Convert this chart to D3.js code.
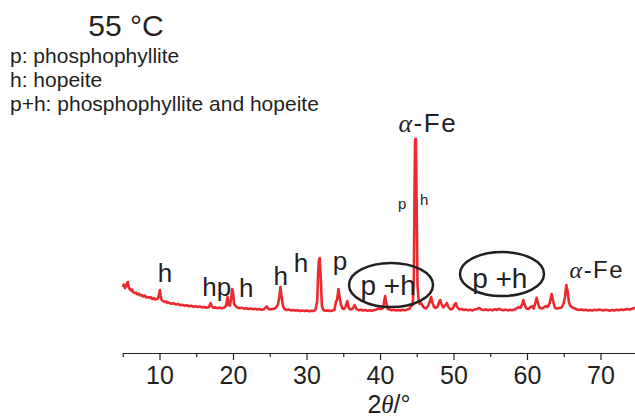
<!DOCTYPE html>
<html>
<head>
<meta charset="utf-8">
<script src="https://cdn.jsdelivr.net/npm/d3@7"></script>
<style>
  body { margin: 0; background: #fff; }
  text { font-family: "Liberation Sans", Arial, sans-serif; fill: #231f20; }
</style>
</head>
<body>
<script>
//Data_______________________________________________________________________________________________
// XRD pattern, [2theta (deg), intensity (counts)]
var pattern = [
  [5.0,430],[5.15,455],[5.3,420],[5.45,440],[5.6,470],[5.7,480],[5.8,430],[5.95,410],[6.1,395],[6.25,405],
  [6.4,380],[6.6,370],[6.8,375],[7.0,355],[7.2,365],[7.4,345],[7.6,350],[7.8,335],[8.0,345],[8.2,325],
  [8.4,330],[8.6,320],[8.8,330],[9.0,310],[9.2,320],[9.4,305],[9.6,310],[9.8,315],[9.95,360],[10.05,400],
  [10.15,340],[10.3,300],[10.5,290],[10.7,280],[10.9,285],[11.1,270],[11.3,275],[11.6,262],[11.9,268],[12.2,255],
  [12.5,260],[12.8,248],[13.1,252],[13.4,242],[13.7,248],[14.0,238],[14.3,242],[14.6,232],[14.9,238],[15.2,230],
  [15.5,235],[15.8,226],[16.1,230],[16.4,222],[16.7,228],[16.95,270],[17.1,240],[17.3,222],[17.6,226],[17.9,218],
  [18.2,224],[18.5,216],[18.8,225],[19.05,240],[19.25,330],[19.4,250],[19.6,245],[19.8,350],[19.9,410],[20.0,380],
  [20.15,260],[20.35,240],[20.6,225],[20.9,218],[21.2,222],[21.5,214],[21.8,218],[22.1,210],[22.4,215],[22.7,208],
  [23.0,212],[23.3,205],[23.6,210],[23.9,203],[24.2,208],[24.45,225],[24.6,235],[24.8,212],[25.1,205],[25.4,210],
  [25.7,215],[25.9,230],[26.1,250],[26.3,330],[26.45,430],[26.6,340],[26.8,240],[27.0,210],[27.3,200],[27.6,205],
  [27.9,196],[28.2,200],[28.5,194],[28.8,198],[29.1,190],[29.4,195],[29.7,190],[30.0,194],[30.3,188],[30.6,193],
  [30.9,190],[31.2,200],[31.45,280],[31.6,600],[31.7,700],[31.8,720],[31.95,500],[32.1,240],[32.3,200],[32.6,192],
  [32.9,196],[33.2,190],[33.5,194],[33.8,200],[34.0,280],[34.15,300],[34.35,410],[34.5,330],[34.7,250],[34.9,215],
  [35.1,210],[35.3,230],[35.55,290],[35.75,220],[36.0,205],[36.3,215],[36.55,250],[36.8,210],[37.1,198],[37.4,202],
  [37.7,195],[38.0,200],[38.3,192],[38.6,198],[38.9,193],[39.2,200],[39.5,205],[39.8,215],[40.1,208],[40.4,220],
  [40.6,300],[40.7,340],[40.8,290],[41.0,215],[41.3,205],[41.6,198],[41.9,202],[42.2,195],[42.5,200],[42.8,196],
  [43.1,202],[43.4,198],[43.7,205],[44.0,212],[44.25,240],[44.45,250],[44.6,500],[44.7,1400],[44.78,1910],[44.88,1910],
  [44.98,1300],[45.1,450],[45.25,300],[45.4,260],[45.6,270],[45.8,240],[46.0,225],[46.25,215],[46.55,240],[46.8,290],
  [46.95,330],[47.1,280],[47.35,230],[47.6,220],[47.85,235],[48.1,290],[48.2,300],[48.35,260],[48.6,225],[48.9,250],
  [49.1,270],[49.3,230],[49.6,205],[49.9,215],[50.1,250],[50.3,270],[50.5,230],[50.8,205],[51.1,210],[51.4,200],
  [51.7,205],[52.0,198],[52.3,202],[52.6,196],[52.9,205],[53.2,210],[53.5,220],[53.8,205],[54.1,200],[54.4,206],
  [54.7,198],[55.0,204],[55.3,196],[55.6,208],[55.9,200],[56.2,212],[56.5,202],[56.8,198],[57.1,204],[57.4,196],
  [57.7,202],[58.0,198],[58.3,205],[58.6,215],[58.85,230],[59.1,220],[59.35,260],[59.5,300],[59.65,260],[59.9,215],
  [60.2,210],[60.5,230],[60.7,240],[60.9,215],[61.1,260],[61.3,323],[61.5,270],[61.7,220],[62.0,215],[62.3,225],
  [62.55,240],[62.8,230],[63.1,270],[63.35,360],[63.55,290],[63.8,220],[64.1,215],[64.4,220],[64.7,225],[64.95,260],
  [65.15,320],[65.35,450],[65.5,400],[65.7,280],[65.9,240],[66.2,225],[66.5,215],[66.8,205],[67.1,200],[67.4,205],
  [67.7,198],[68.0,202],[68.3,195],[68.6,200],[68.9,194],[69.2,202],[69.5,198],[69.8,205],[70.1,200],[70.4,196],
  [70.7,202],[71.0,198],[71.3,194],[71.6,200],[71.9,196],[72.2,202],[72.5,198],[72.8,204],[73.1,200],[73.4,206],
  [73.7,210],[74.0,204],[74.3,212],[74.6,220],[74.9,214]
];

var majorTicks = [10, 20, 30, 40, 50, 60, 70];
var minorTicks = [5, 15, 25, 35, 45, 55, 65, 75];

// phase labels: [text, 2theta, intensity]
var peakLabels = [
  ["h", 10.75, 480], ["hp", 17.8, 340], ["h", 21.8, 330], ["h", 26.5, 450],
  ["h", 29.25, 580], ["p", 34.55, 600]
];
var smallLabels = [["p", 43.0, 1210], ["h", 46.0, 1250]];
var feLabels = [["\u03b1", "-Fe", 46.5, 1980, 26], ["\u03b1", "-Fe", 69.5, 520, 24]];
// circled "p +h" groups: [2theta, intensity] of ellipse centre and text
var ringLabels = [[41.5, 450, 41.1, 350], [56.6, 560, 56.3, 420]];

var legendLines = ["p: phosphophyllite", "h: hopeite", "p+h: phosphophyllite and hopeite"];

//SVG_______________________________________________________________________________________________
var W = 635, H = 418;
var svg = d3.select("body").append("svg")
  .attr("width", W)
  .attr("height", H);

//Scales____________________________________________________________________________________________
var x = d3.scaleLinear().domain([5, 75]).range([122.75, 637.25]);
var y = d3.scaleLinear().domain([0, 1900]).range([330, 140]);

//Axis______________________________________________________________________________________________
var axisY = 353;
var bottomAxis = d3.axisBottom(x)
  .tickValues(majorTicks)
  .tickSize(7)
  .tickSizeOuter(0)
  .tickPadding(6)
  .tickFormat(d3.format("d"));

var ax = svg.append("g")
  .attr("transform", "translate(0," + axisY + ")")
  .call(bottomAxis);
ax.select(".domain").attr("stroke", "#231f20").attr("stroke-width", 1.2);
ax.selectAll(".tick line").attr("stroke", "#231f20").attr("stroke-width", 1.2);
ax.selectAll(".tick text")
  .style("font-family", "'Liberation Sans', Arial, sans-serif")
  .style("font-size", "25px")
  .attr("fill", "#231f20");

// minor ticks
var minorAxis = d3.axisBottom(x).tickValues(minorTicks).tickSize(4).tickSizeOuter(0).tickFormat("");
var mx = svg.append("g")
  .attr("transform", "translate(0," + axisY + ")")
  .call(minorAxis);
mx.select(".domain").remove();
mx.selectAll(".tick line").attr("stroke", "#231f20").attr("stroke-width", 1.2);

// x axis label
var xl = svg.append("text")
  .attr("x", 389)
  .attr("y", 413)
  .attr("text-anchor", "middle")
  .style("font-size", "25px");
xl.append("tspan").text("2");
xl.append("tspan").style("font-style", "italic").style("font-family", "'Liberation Serif', serif").text("\u03b8");
xl.append("tspan").text("/\u00b0");

//Pattern line______________________________________________________________________________________
var line = d3.line()
  .x(function(d) { return x(d[0]); })
  .y(function(d) { return y(d[1]); });

svg.append("path")
  .datum(pattern)
  .attr("d", line)
  .attr("fill", "none")
  .attr("stroke", "#ea2a30")
  .attr("stroke-width", 2.6)
  .attr("stroke-linejoin", "round");

//Annotations_______________________________________________________________________________________
svg.selectAll(".peak-label")
  .data(peakLabels)
  .enter().append("text")
  .attr("class", "peak-label")
  .attr("x", function(d) { return x(d[1]); })
  .attr("y", function(d) { return y(d[2]); })
  .attr("text-anchor", "middle")
  .style("font-size", "26px")
  .text(function(d) { return d[0]; });

svg.selectAll(".small-label")
  .data(smallLabels)
  .enter().append("text")
  .attr("class", "small-label")
  .attr("x", function(d) { return x(d[1]); })
  .attr("y", function(d) { return y(d[2]); })
  .attr("text-anchor", "middle")
  .style("font-size", "15px")
  .text(function(d) { return d[0]; });

feLabels.forEach(function(d) {
  var t = svg.append("text")
    .attr("x", x(d[2]))
    .attr("y", y(d[3]))
    .attr("text-anchor", "middle")
    .style("font-size", d[4] + "px")
    .style("letter-spacing", "1.5px");
  t.append("tspan").style("font-family", "'Liberation Serif', serif").style("font-style", "italic").text(d[0]);
  t.append("tspan").text(d[1]);
});

ringLabels.forEach(function(d) {
  svg.append("ellipse")
    .attr("cx", x(d[0]))
    .attr("cy", y(d[1]))
    .attr("rx", 42)
    .attr("ry", 22)
    .attr("fill", "none")
    .attr("stroke", "#231f20")
    .attr("stroke-width", 2.5);
  svg.append("text")
    .attr("x", x(d[2]))
    .attr("y", y(d[3]))
    .attr("text-anchor", "middle")
    .style("font-size", "28px")
    .text("p +h");
});

//Title and legend__________________________________________________________________________________
svg.append("text")
  .attr("x", 126)
  .attr("y", 36)
  .attr("text-anchor", "middle")
  .style("font-size", "30px")
  .text("55 \u00b0C");

svg.selectAll(".legend")
  .data(legendLines)
  .enter().append("text")
  .attr("class", "legend")
  .attr("x", 10)
  .attr("y", function(d, i) { return 63 + i * 24; })
  .style("font-size", "21px")
  .text(function(d) { return d; });
</script>
</body>
</html>
